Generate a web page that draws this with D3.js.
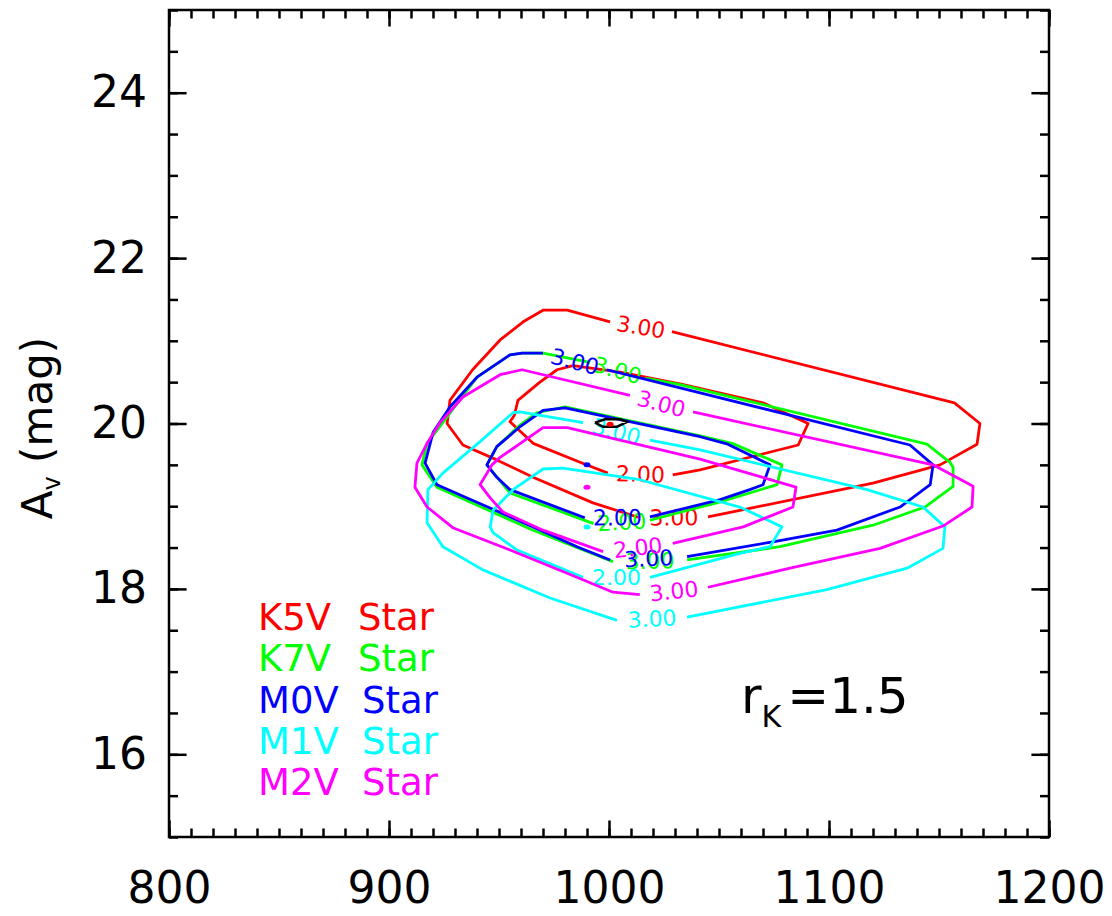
<!DOCTYPE html>
<html>
<head>
<meta charset="utf-8">
<script src="https://cdn.jsdelivr.net/npm/d3@7"></script>
<style>
  body { margin: 0; background: #fff; }
  text { font-family: "DejaVu Sans", sans-serif; }
</style>
</head>
<body>
<svg id="chart" width="1112" height="916"></svg>
<script>
// ---- data (Teff in K on x, Av in mag on y) ----
const xMajor = [800, 900, 1000, 1100, 1200];
const yMajor = [16, 18, 20, 22, 24];

const starNames  = ['K5V', 'K7V', 'M0V', 'M1V', 'M2V'];
const starColors = ['#ff0000', '#00ff00', '#0000ff', '#00ffff', '#ff00ff'];

// contour vertices; null = gap where a level label sits (closing gap is a label too)
const k5v3 = [[1028.6,21.11],[1157,20.25],[1168.6,20.0],[1167.3,19.75],[1150.5,19.5],[1120,19.28],[1045,18.87],null,
  [1014,18.86],[992.7,19.04],[965.5,19.35],[949,19.56],[933.6,19.74],[926.4,20.0],[927.7,20.28],[938,20.65],
  [950.5,21.01],[961,21.23],[970,21.37],[981,21.37],[1000.5,21.23]];
const k5v2 = [[1029,19.38],[1041.4,19.44],[1086,19.74],[1090.5,20.0],[1070,20.25],[1032.3,20.48],[1005,20.62],
  [983.6,20.70],[976.4,20.65],[968.6,20.50],[958.6,20.28],[957,20.10],[955,20.02],[965.5,19.76],[988,19.52],[999.5,19.40]];
const k7v3 = [[1016.4,20.55],[1032.3,20.47],[1144.5,19.75],[1155,19.53],[1156.4,19.47],[1156.4,19.24],[1143.6,18.99],
  [1120,18.77],[1077.7,18.51],[1035.5,18.35],null,[1001.8,18.33],[965.5,18.71],[921.8,19.23],[915,19.50],[917.3,19.76],
  [926.4,20.08],[940,20.56],[955,20.83],[960.5,20.85],[970,20.85],[991.4,20.74]];
const k7v2 = [[1018.6,18.83],[1035.5,18.95],[1049,19.04],[1076.4,19.26],[1078.6,19.50],[1056,19.76],[1041.4,19.85],
  [980,20.20],[967.3,20.13],[959.5,19.98],[949,19.72],[944.5,19.50],[955,19.16],[993,18.79]];
const m0v3 = [[999,20.65],[1032.3,20.43],[1136.8,19.74],[1147.3,19.50],[1146,19.26],[1132.3,18.99],[1103.6,18.71],
  [1074.5,18.57],[1035.5,18.39],null,[1000.5,18.35],[985.5,18.51],[965.5,18.75],[935.5,19.10],[921.8,19.26],
  [916.4,19.52],[920,19.89],[927.7,20.20],[940,20.56],[955,20.83],[960.5,20.85],[970,20.85]];
const m0v2 = [[1018.6,18.87],[1050.5,19.08],[1064,19.20],[1070,19.26],[1073.2,19.50],[1054,19.75],[1041.4,19.84],
  [980,20.19],[970,20.16],[959.5,19.96],[949,19.72],[944.5,19.50],[949,19.35],[955,19.20],[989,18.86]];
const m1v3 = [[1018.6,19.80],[1041.4,19.68],[1117.3,19.20],[1142.7,18.99],[1152.7,18.75],[1151.8,18.49],[1135.5,18.25],
  [1099,17.99],[1035.5,17.66],null,[1003.6,17.62],[973.2,17.89],[942.7,18.23],[924.5,18.51],[917.3,18.80],
  [917.7,19.20],[924.5,19.40],[941.4,19.78],[956.4,20.13],[959.5,20.14],[988.2,20.01]];
const m1v2 = [[988.2,18.14],[958.2,18.47],[947.3,18.68],[946,18.75],[947.3,18.95],[956.4,19.20],[970,19.45],
  [979,19.46],[1014,19.32],[1059.5,18.99],[1078.6,18.75],[1073.2,18.51],[1059.5,18.43],[1018.6,18.14]];
const m2v3 = [[1038.2,20.14],[1147.3,19.50],[1165.5,19.24],[1165,18.99],[1151.8,18.76],[1123.2,18.49],[1082.3,18.25],
  [1045,18.02],null,[1014,17.93],[1001.8,17.96],[981,18.19],[955,18.47],[929,18.74],[917.3,18.99],[911.8,19.23],
  [912.7,19.52],[917.3,19.76],[923.2,20.01],[933.6,20.32],[950.5,20.59],[960.5,20.65],[1009.5,20.34]];
const m2v2 = [[1029,18.55],[1061,18.75],[1083.6,18.99],[1085,19.23],[1041.4,19.57],[981,19.95],[970,19.95],
  [950.5,19.59],[946.8,19.50],[941.4,19.26],[946,19.10],[951.8,18.93],[970,18.71],[997.3,18.45]];

// tiny black loop around the K5V best fit
const bestLoop = [[993.6,20.01],[998.2,20.05],[1005,20.05],[1008.2,20.02],[1003.6,19.96],[997.3,19.96]];

// best-fit markers
const markStar = ['K5V', 'M0V', 'M1V', 'M2V'];
const markX = [1000.5, 990, 990, 990];
const markY = [19.99, 19.50, 18.75, 19.23];

const contours = [
  {star: 'K5V', level: '3.00', pts: k5v3}, {star: 'K5V', level: '2.00', pts: k5v2},
  {star: 'K7V', level: '3.00', pts: k7v3}, {star: 'K7V', level: '2.00', pts: k7v2},
  {star: 'M0V', level: '3.00', pts: m0v3}, {star: 'M0V', level: '2.00', pts: m0v2},
  {star: 'M1V', level: '3.00', pts: m1v3}, {star: 'M1V', level: '2.00', pts: m1v2},
  {star: 'M2V', level: '3.00', pts: m2v3}, {star: 'M2V', level: '2.00', pts: m2v2}
];

// ---- chart ----
const svg = d3.select('#chart');
const x = d3.scaleLinear().domain([800, 1200]).range([169, 1049]);
const y = d3.scaleLinear().domain([15, 25]).range([837, 10]);
const color = d3.scaleOrdinal().domain(starNames).range(starColors);

const line = d3.line().defined(d => d !== null).x(d => x(d[0])).y(d => y(d[1]));

contours.forEach(c => {
  const col = color(c.star);
  svg.append('path')
    .attr('d', line(c.pts))
    .attr('fill', 'none')
    .attr('stroke', col)
    .attr('stroke-width', 2.8)
    .attr('stroke-linejoin', 'round');

  // label gaps: every null, plus last -> first
  const gaps = [];
  c.pts.forEach((p, i) => { if (p === null) gaps.push([c.pts[i - 1], c.pts[i + 1]]); });
  gaps.push([c.pts[c.pts.length - 1], c.pts[0]]);

  gaps.forEach(g => {
    const x0 = x(g[0][0]), y0 = y(g[0][1]), x1 = x(g[1][0]), y1 = y(g[1][1]);
    let ang = Math.atan2(y1 - y0, x1 - x0) * 180 / Math.PI;
    if (ang > 90) ang -= 180;
    if (ang < -90) ang += 180;
    svg.append('text')
      .attr('transform', `translate(${(x0 + x1) / 2},${(y0 + y1) / 2}) rotate(${ang})`)
      .attr('text-anchor', 'middle')
      .attr('dy', '0.36em')
      .attr('font-size', 22)
      .attr('fill', col)
      .text(c.level);
  });
});

svg.append('path')
  .attr('d', line(bestLoop.concat([bestLoop[0]])))
  .attr('fill', 'none').attr('stroke', '#000').attr('stroke-width', 2.5);

svg.selectAll('.mark').data(markStar).enter().append('ellipse')
  .attr('class', 'mark')
  .attr('cx', (d, i) => x(markX[i]))
  .attr('cy', (d, i) => y(markY[i]))
  .attr('rx', 3.5).attr('ry', 2.5)
  .attr('fill', d => color(d));

// ---- axes (ticks point inward on all four sides) ----
function styleAxis(g, fs) {
  g.select('.domain').remove();
  g.selectAll('line').attr('stroke', '#000').attr('stroke-width', 2.5);
  g.attr('font-size', fs).attr('font-family', '"DejaVu Sans", sans-serif');
}
const xMinor = d3.range(800, 1201, 10);
const yMinor = d3.range(15, 25.01, 0.5);

svg.append('g').attr('transform', 'translate(0,837)')
  .call(d3.axisBottom(x).tickValues(xMinor).tickSize(-8.5).tickFormat(''))
  .call(g => styleAxis(g, 44));
svg.append('g').attr('transform', 'translate(0,837)')
  .call(d3.axisBottom(x).tickValues(xMajor).tickSize(-16.5).tickPadding(35).tickFormat(d3.format('d')))
  .call(g => styleAxis(g, 44));
svg.append('g').attr('transform', 'translate(0,10)')
  .call(d3.axisTop(x).tickValues(xMinor).tickSize(-8.5).tickFormat(''))
  .call(g => styleAxis(g, 44));
svg.append('g').attr('transform', 'translate(0,10)')
  .call(d3.axisTop(x).tickValues(xMajor).tickSize(-16.5).tickFormat(''))
  .call(g => styleAxis(g, 44));

svg.append('g').attr('transform', 'translate(169,0)')
  .call(d3.axisLeft(y).tickValues(yMinor).tickSize(-9).tickFormat(''))
  .call(g => styleAxis(g, 44));
svg.append('g').attr('transform', 'translate(169,0)')
  .call(d3.axisLeft(y).tickValues(yMajor).tickSize(-17.6).tickPadding(22).tickFormat(d3.format('d')))
  .call(g => styleAxis(g, 44));
svg.append('g').attr('transform', 'translate(1049,0)')
  .call(d3.axisRight(y).tickValues(yMinor).tickSize(-9).tickFormat(''))
  .call(g => styleAxis(g, 44));
svg.append('g').attr('transform', 'translate(1049,0)')
  .call(d3.axisRight(y).tickValues(yMajor).tickSize(-17.6).tickFormat(''))
  .call(g => styleAxis(g, 44));

svg.append('rect')
  .attr('x', 169).attr('y', 10)
  .attr('width', 1049 - 169).attr('height', 837 - 10)
  .attr('fill', 'none').attr('stroke', '#000').attr('stroke-width', 2.5);

// y axis title
svg.append('text')
  .attr('transform', 'translate(52,428) rotate(-90)')
  .attr('text-anchor', 'middle')
  .attr('font-size', 42)
  .call(t => {
    t.append('tspan').text('A');
    t.append('tspan').attr('font-size', 24).attr('dy', 8).text('v');
    t.append('tspan').attr('dy', -8).text(' (mag)');
  });

// legend
const legend = svg.selectAll('.leg').data(starNames).enter().append('g').attr('class', 'leg');
legend.append('text')
  .attr('x', 258).attr('y', (d, i) => 630 + i * 41.3)
  .attr('font-size', 37).attr('fill', d => color(d))
  .text(d => d);
legend.append('text')
  .attr('x', (d, i) => i < 2 ? 358 : 362).attr('y', (d, i) => 630 + i * 41.3)
  .attr('font-size', 37).attr('fill', d => color(d))
  .text('Star');

// r_K annotation
svg.append('text')
  .attr('x', 741).attr('y', 713)
  .attr('font-size', 50)
  .call(t => {
    t.append('tspan').text('r');
    t.append('tspan').attr('font-size', 30).attr('dy', 14).text('K');
    t.append('tspan').attr('dy', -14).attr('dx', 6).text('=1.5');
  });
</script>
</body>
</html>
